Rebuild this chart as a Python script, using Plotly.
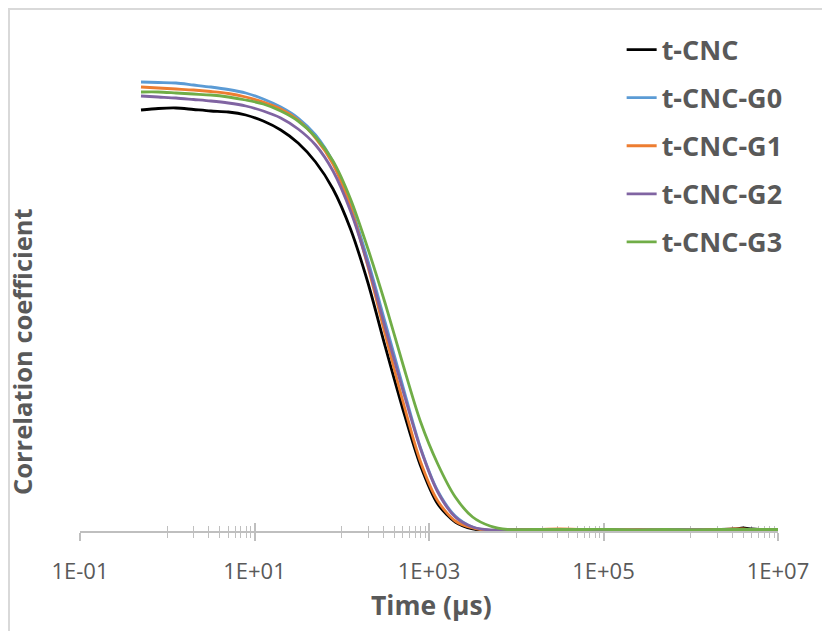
import plotly.graph_objects as go

# Lag time (µs) shared by every correlation curve
time_us = [0.5, 0.79, 1.26, 2.0, 3.16, 5.01, 7.94, 12.6, 20.0, 31.6, 50.1, 79.4,
           126, 200, 316, 501, 794, 1260, 2000, 3160, 5010, 7940,
           15800, 31600, 63100, 126000, 251000, 501000, 1000000, 2000000,
           3160000, 3980000, 5010000, 7080000, 10000000]

t_cnc = [0.842, 0.845, 0.846, 0.843, 0.840, 0.838, 0.832, 0.820, 0.802, 0.776, 0.738, 0.684,
         0.604, 0.496, 0.368, 0.244, 0.132, 0.054, 0.018, 0.004, 0.001, 0.002,
         0.002, 0.001, 0.002, 0.002, 0.001, 0.002, 0.002, 0.003, 0.004, 0.006, 0.004, 0.002, 0.002]
t_cnc_g0 = [0.898, 0.897, 0.896, 0.892, 0.888, 0.883, 0.876, 0.864, 0.848, 0.826, 0.792, 0.738,
            0.652, 0.540, 0.416, 0.290, 0.168, 0.080, 0.030, 0.008, 0.001, 0.002,
            0.002, 0.003, 0.002, 0.002, 0.003, 0.002, 0.002, 0.002, 0.003, 0.003, 0.002, 0.002, 0.002]
t_cnc_g1 = [0.888, 0.886, 0.884, 0.882, 0.879, 0.875, 0.868, 0.858, 0.844, 0.822, 0.786, 0.734,
            0.648, 0.528, 0.392, 0.260, 0.140, 0.060, 0.020, 0.006, 0.001, 0.002,
            0.003, 0.004, 0.003, 0.002, 0.003, 0.002, 0.002, 0.003, 0.004, 0.004, 0.003, 0.002, 0.002]
t_cnc_g2 = [0.870, 0.868, 0.866, 0.863, 0.860, 0.856, 0.850, 0.840, 0.826, 0.804, 0.772, 0.720,
            0.640, 0.532, 0.406, 0.282, 0.166, 0.078, 0.028, 0.008, 0.002, 0.002,
            0.002, 0.002, 0.003, 0.002, 0.002, 0.002, 0.002, 0.002, 0.003, 0.003, 0.002, 0.002, 0.002]
t_cnc_g3 = [0.878, 0.878, 0.876, 0.874, 0.872, 0.868, 0.862, 0.854, 0.840, 0.820, 0.788, 0.740,
            0.664, 0.564, 0.454, 0.334, 0.220, 0.134, 0.068, 0.028, 0.010, 0.003,
            0.003, 0.003, 0.003, 0.003, 0.002, 0.003, 0.002, 0.003, 0.003, 0.003, 0.003, 0.003, 0.003]

series_names = ["t-CNC", "t-CNC-G0", "t-CNC-G1", "t-CNC-G2", "t-CNC-G3"]
series_values = [t_cnc, t_cnc_g0, t_cnc_g1, t_cnc_g2, t_cnc_g3]
series_colors = ["#000000", "#5B9BD5", "#ED7D31", "#8064A2", "#70AD47"]

major_ticks = [0.1, 10, 1e3, 1e5, 1e7]
major_labels = ["1E-01", "1E+01", "1E+03", "1E+05", "1E+07"]
minor_ticks = [m * 10 ** d for d in (0, 2, 4, 6) for m in range(1, 10)]

AXIS_GREY = "#bfbfbf"
TEXT_GREY = "#595959"
FONT = "Open Sans"

fig = go.Figure()
for i, (name, vals, col) in enumerate(zip(series_names, series_values, series_colors)):
    # the last series sits on the twin x axis, which carries the upward tick halves
    fig.add_trace(go.Scatter(
        x=time_us, y=vals, name=name, mode="lines",
        line=dict(color=col, width=2.8, shape="spline", smoothing=0.8),
        legendgroup=name,
        xaxis="x2" if i == len(series_names) - 1 else "x",
    ))

axis_common = dict(
    type="log", range=[-1, 7],
    tickmode="array", tickvals=major_ticks,
    tickcolor=AXIS_GREY, tickwidth=1.5, ticklen=8,
    showgrid=False, zeroline=False, layer="below traces",
)

fig.update_layout(
    width=822, height=631,
    margin=dict(l=80, r=44, t=31, b=100),
    paper_bgcolor="white", plot_bgcolor="white",
    font=dict(family=FONT, color=TEXT_GREY),
    xaxis=dict(
        **axis_common,
        ticktext=major_labels, ticks="outside",
        showline=True, linecolor=AXIS_GREY, linewidth=1.5,
        tickfont=dict(size=22, color=TEXT_GREY, family=FONT),
        ticklabelstandoff=12,
        minor=dict(tickvals=minor_ticks, ticks="outside", ticklen=5,
                   tickcolor=AXIS_GREY, tickwidth=1.2, showgrid=False),
    ),
    xaxis2=dict(
        **axis_common,
        overlaying="x", matches="x", anchor="y", side="bottom",
        ticks="inside", showticklabels=False, showline=False,
        minor=dict(tickvals=minor_ticks, ticks="inside", ticklen=5,
                   tickcolor=AXIS_GREY, tickwidth=1.2, showgrid=False),
    ),
    yaxis=dict(range=[0, 1], showline=False, showticklabels=False, ticks="",
               showgrid=False, zeroline=False),
    legend=dict(
        x=0.776, y=1.011, xanchor="left", yanchor="top",
        font=dict(family=FONT, size=27, color=TEXT_GREY, weight="bold"),
        tracegroupgap=10, bgcolor="rgba(0,0,0,0)",
    ),
    annotations=[
        dict(text="<b>Correlation coefficient</b>", textangle=-90,
             xref="paper", yref="paper", x=-0.083, y=0.358,
             xanchor="center", yanchor="middle",
             showarrow=False, font=dict(family=FONT, size=25.5, color=TEXT_GREY)),
        dict(text="<b>Time (µs)</b>",
             xref="paper", yref="paper", x=0.504, y=-0.148,
             xanchor="center", yanchor="middle",
             showarrow=False, font=dict(family=FONT, size=26.5, color=TEXT_GREY)),
    ],
    shapes=[
        dict(type="rect", xref="paper", yref="paper",
             x0=-0.1017, y0=-0.22, x1=1.08, y1=1.044,
             line=dict(color="#d9d9d9", width=2), layer="below"),
    ],
)

fig.write_html("out.html")
